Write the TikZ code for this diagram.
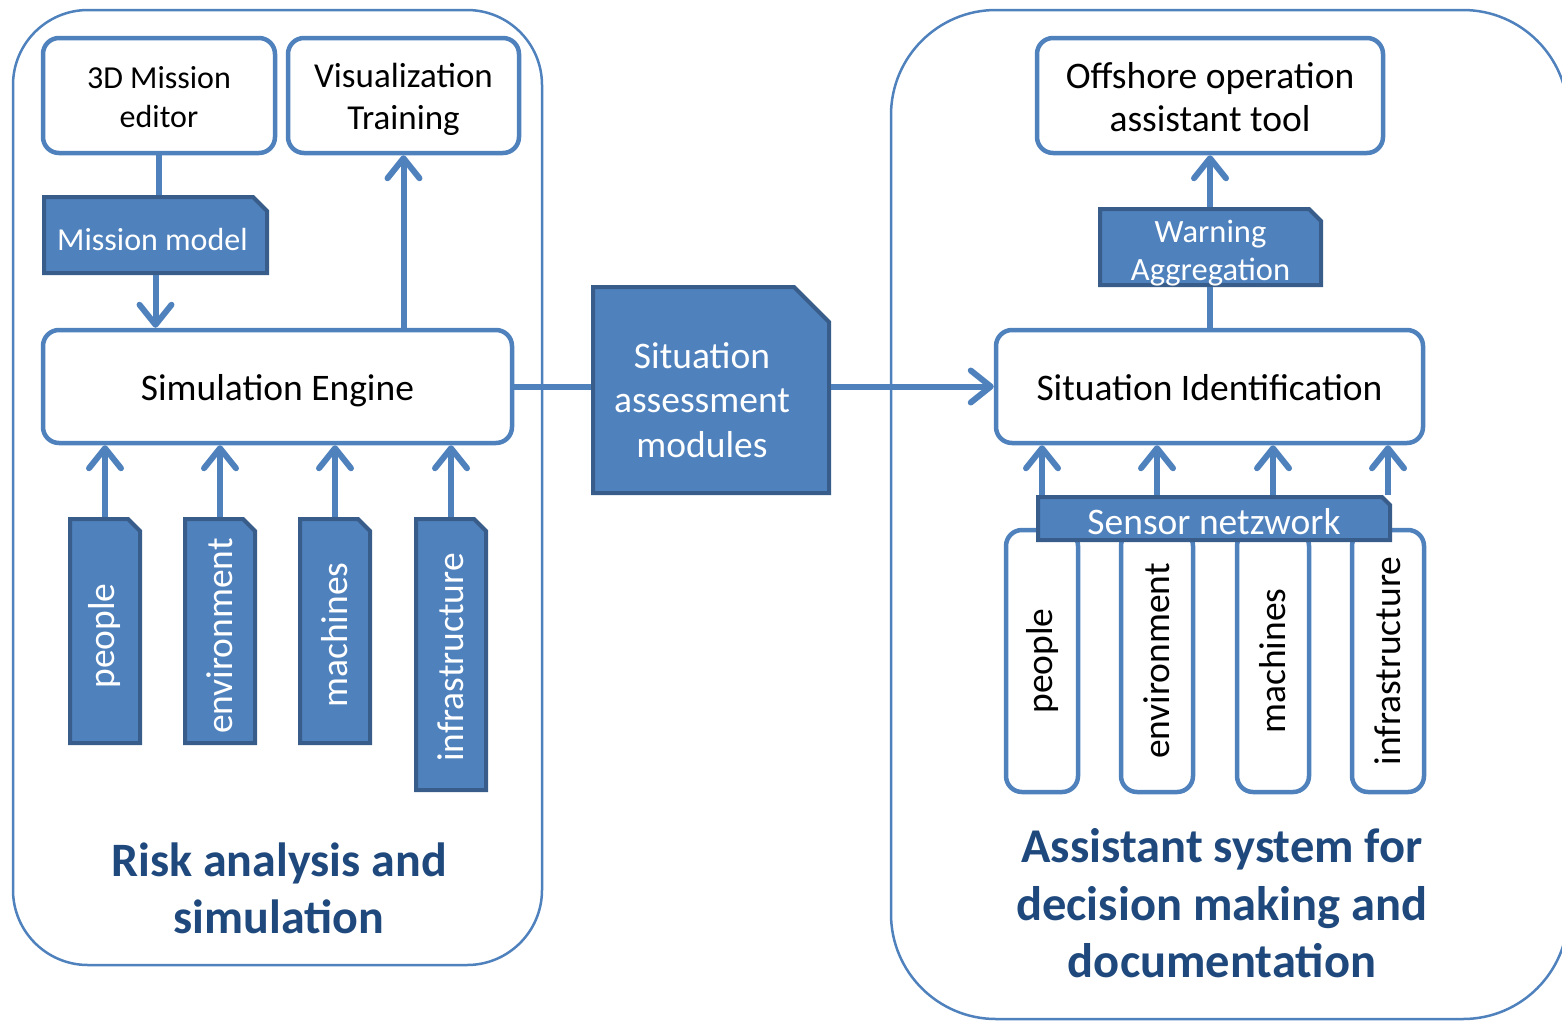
\documentclass[tikz,border=0pt]{standalone}
\usepackage{fontspec}
\setmainfont{Carlito}
\usetikzlibrary{arrows.meta}
\definecolor{cblue}{RGB}{79,129,189}
\definecolor{cdark}{RGB}{56,93,138}
\definecolor{ctitle}{RGB}{31,73,125}
\newcommand\dn[2]{\raisebox{-#1}[\height][\depth]{#2}}
\newcommand\tl[1]{\begin{tabular}{@{}c@{}}#1\end{tabular}}
\begin{document}
\begin{tikzpicture}[x=1pt,y=-1pt,
  wbox/.style={draw=cblue, line width=4.5pt, fill=white, rounded corners=16pt, inner sep=0pt, align=center, text=black},
  snipbox/.style={inner sep=0pt, align=center, text=white,
    path picture={
      \path[fill=cblue,draw=cdark,line width=4pt,line join=miter]
        ([xshift=2pt,yshift=2pt]path picture bounding box.south west)
     -- ([xshift=2pt,yshift=-2pt]path picture bounding box.north west)
     -- ([xshift=-2pt-#1,yshift=-2pt]path picture bounding box.north east)
     -- ([xshift=-2pt,yshift=-2pt-#1]path picture bounding box.north east)
     -- ([xshift=-2pt,yshift=2pt]path picture bounding box.south east) -- cycle;}},
  conn/.style={draw=cblue, line width=6pt},
  arr/.style={conn, -{Straight Barb[length=20pt,width=32pt,line cap=round,line join=round]}},
  outer/.style={draw=cblue, line width=2.5pt},
  ttl/.style={text=ctitle, font=\fontsize{48.5}{57.5}\selectfont\bfseries, align=center},
  fa/.style={font=\fontsize{37.5}{44.5}\selectfont},
  fb/.style={font=\fontsize{32}{39}\selectfont},
]
\useasboundingbox (0,0) rectangle (1562,1020);
\clip (0,0) rectangle (1562,1020);

% outer frames
\draw[outer, rounded corners=75pt] (13,10) rectangle (542,965);
\draw[outer, rounded corners=105pt] (891,10) rectangle (1568,1019);

% ---------- left part ----------
\node[wbox, fb, minimum width=232pt, minimum height=115pt] (me) at (159,95.5) {\dn{5pt}{\tl{3D Mission\\editor}}};
\node[wbox, font=\fontsize{35}{42}\selectfont, minimum width=231pt, minimum height=115pt] (vt) at (403.5,95.5) {\dn{5pt}{\tl{Visualization\\Training}}};
\node[snipbox=14pt, fb, minimum width=227pt, minimum height=80pt] (mm) at (155.5,235) {\dn{5pt}{Mission model\kern6pt}};
\node[wbox, fa, minimum width=469pt, minimum height=113pt] (se) at (277.5,386.5) {\dn{4pt}{Simulation Engine}};

\node[snipbox=12pt, fa, minimum width=74pt, minimum height=228pt] (lp) at (105,631) {\dn{5pt}{\rotatebox{90}{people}}};
\node[snipbox=12pt, fa, minimum width=74pt, minimum height=228pt] (le) at (220,631) {\dn{5pt}{\rotatebox{90}{environment}}};
\node[snipbox=12pt, fa, minimum width=74pt, minimum height=228pt] (lm) at (335,631) {\dn{4pt}{\rotatebox{90}{machines}}};
\node[snipbox=12pt, fa, minimum width=74pt, minimum height=275pt] (li) at (451,654.5) {\dn{3pt}{\rotatebox{90}{infrastructure}}};

\draw[conn] (me.south) -- (me.south |- mm.north);
\draw[arr] (mm.south) -- (mm.south |- se.north);
\draw[arr] (vt.south |- se.north) -- (vt.south);
\foreach \n in {lp,le,lm,li}{
  \draw[arr] (\n.north) -- (\n.north |- se.south);
}

\node[ttl, font=\fontsize{48}{57.5}\selectfont\bfseries] (t1) at (279,888.5) {Risk analysis and\\simulation};

% ---------- middle ----------
\node[snipbox=35pt, fa, minimum width=240pt, minimum height=210pt] (sam) at (711,390) {\dn{14pt}{\tl{Situation\\assessment\\modules}\kern18pt}};

% ---------- right part ----------
\node[wbox, font=\fontsize{37.5}{43}\selectfont, minimum width=346pt, minimum height=115pt] (os) at (1210,95.5) {\dn{5.5pt}{\tl{Offshore operation\\assistant tool}}};
\node[snipbox=12pt, font=\fontsize{32.5}{38}\selectfont, minimum width=225pt, minimum height=80pt] (wa) at (1210.5,247) {\dn{7pt}{\tl{Warning\\Aggregation}}};
\node[wbox, fa, minimum width=427pt, minimum height=113pt] (si) at (1209.5,386.5) {\dn{1pt}{Situation Identification}};

\node[wbox, fa, minimum width=72pt, minimum height=262pt] (rp) at (1042,661) {\rotatebox{90}{people}};
\node[wbox, fa, minimum width=72pt, minimum height=262pt] (re) at (1157,661) {\rotatebox{90}{environment}};
\node[wbox, fa, minimum width=72pt, minimum height=262pt] (rm) at (1273,661) {\rotatebox{90}{machines}};
\node[wbox, fa, minimum width=72pt, minimum height=262pt] (ri) at (1388,661) {\rotatebox{90}{infrastructure}};

\node[snipbox=8pt, fa, minimum width=356pt, minimum height=47pt] (sn) at (1214,518.5) {\dn{3pt}{Sensor netzwork}};

\foreach \n in {rp,re,rm,ri}{
  \draw[arr] (\n.north |- sn.north) -- (\n.north |- si.south);
}
\draw[conn] (si.north) -- (si.north |- wa.south);
\draw[arr] (wa.north -| os.south) -- (os.south);

\draw[conn] (se.east) -- (se.east -| sam.west);
\draw[arr] (sam.east |- si.west) -- (si.west);

\node[ttl] (t2) at (1222,903.5) {Assistant system for\\decision making and\\documentation};
\end{tikzpicture}
\end{document}
